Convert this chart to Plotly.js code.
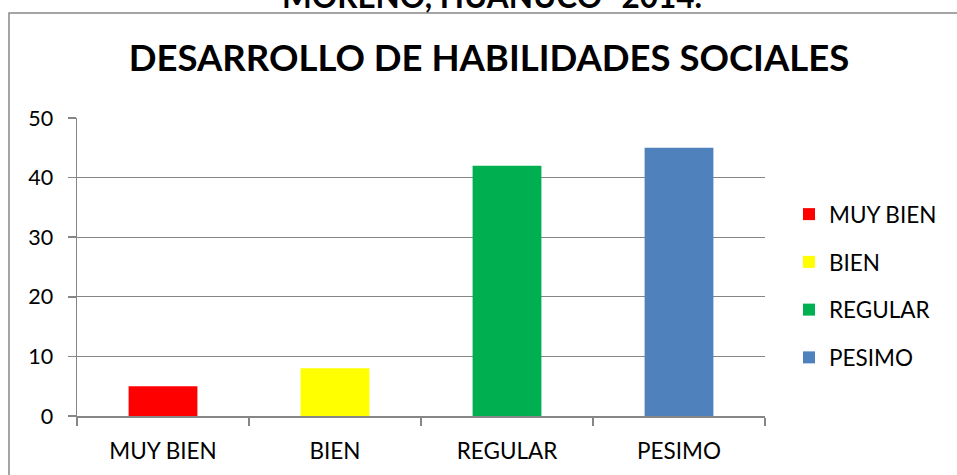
<!DOCTYPE html>
<html>
<head>
<meta charset="utf-8">
<script src="https://cdn.plot.ly/plotly-3.0.1.min.js"></script>
<style>html,body{margin:0;padding:0;background:#fff;}#chart{width:957px;height:475px;}</style>
</head>
<body>
<div id="chart"></div>
<script>
var categories = ["MUY BIEN", "BIEN", "REGULAR", "PESIMO"];
var values = [5, 8, 42, 45];
var colors = ["#FF0000", "#FFFF00", "#00B050", "#4F81BD"];
var yTicks = [0, 10, 20, 30, 40, 50];
var titleText = "DESARROLLO DE HABILIDADES SOCIALES";
var topText = "MORENO, HUANUCO -2014.";

var FONT = "Lato, 'Open Sans', sans-serif";
var traces = categories.map(function (c, i) {
  return {
    type: "bar",
    name: c,
    x: [c],
    y: [values[i]],
    width: 0.4,
    marker: {color: colors[i]},
    legendgroup: "g" + i,
    hoverinfo: "x+y"
  };
});

var L = 77, R = 765, T = 118, B = 416, W = 957, H = 475;
var pw = R - L, ph = B - T;
function px(x) { return (x - L) / pw; }
function py(y) { return (B - y) / ph; }

var layout = {
  width: W, height: H,
  margin: {l: L, r: W - R, t: T, b: H - B, pad: 0},
  paper_bgcolor: "#ffffff",
  plot_bgcolor: "#ffffff",
  barmode: "overlay",
  showlegend: true,
  font: {family: FONT, color: "#000000", size: 18},
  title: {
    text: "<b>" + titleText + "</b>",
    font: {family: FONT, size: 36.5, color: "#000000"},
    x: 489 / W, xref: "container", xanchor: "center",
    y: 1 - 58 / H, yref: "container", yanchor: "middle"
  },
  xaxis: {
    type: "category",
    categoryorder: "array",
    categoryarray: categories,
    range: [-0.5, 3.5],
    showline: true, linecolor: "#868686", linewidth: 1.5,
    ticks: "outside", tickson: "boundaries", ticklen: 8, tickcolor: "#868686", tickwidth: 1.5,
    showgrid: false, zeroline: false,
    ticklabelstandoff: 14,
    tickfont: {family: FONT, size: 22.5, color: "#000000"},
    automargin: false
  },
  yaxis: {
    range: [0, 50],
    tickvals: yTicks,
    ticktext: yTicks.map(String),
    showline: true, linecolor: "#868686", linewidth: 1.5,
    ticks: "outside", ticklen: 8, tickcolor: "#868686", tickwidth: 1.5,
    showgrid: true, gridcolor: "#868686", gridwidth: 1.2,
    zeroline: false,
    ticklabelstandoff: 10,
    tickfont: {family: FONT, size: 21.5, color: "#000000"},
    automargin: false
  },
  legend: {
    x: px(789), xanchor: "left",
    y: py(193), yanchor: "top",
    traceorder: "grouped",
    tracegroupgap: 15.5,
    font: {family: FONT, size: 22.5, color: "#000000"},
    bgcolor: "rgba(0,0,0,0)",
    itemwidth: 30
  },
  shapes: [{
    type: "rect", xref: "paper", yref: "paper",
    x0: px(9), x1: px(990), y0: py(520), y1: py(13),
    line: {color: "#888888", width: 1.5},
    fillcolor: "rgba(0,0,0,0)",
    layer: "below"
  }],
  annotations: [{
    text: "<b>" + topText + "</b>",
    xref: "paper", yref: "paper",
    x: px(492), xanchor: "center",
    y: py(17), yanchor: "bottom",
    showarrow: false,
    font: {family: FONT, size: 31.5, color: "#000000"}
  }]
};

Plotly.newPlot("chart", traces, layout, {displayModeBar: false, staticPlot: true});
</script>
</body>
</html>
